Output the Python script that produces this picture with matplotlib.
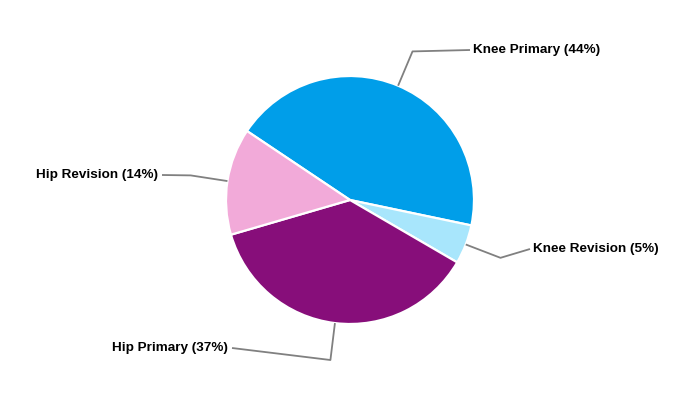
import numpy as np
import matplotlib.pyplot as plt

plt.rcParams["font.family"] = ["Liberation Sans", "DejaVu Sans"]

categories = ["Knee Primary", "Knee Revision", "Hip Primary", "Hip Revision"]
shares = [43.9, 5.1, 37.1, 13.9]
colors = ["#009ee9", "#a8e6fc", "#870e7a", "#f2aad9"]

# where each leader line ends (pixels, y from top) and which side the text sits on
label_ends = [(470, 50), (530, 249), (232, 348), (162, 175)]
label_side = ["left", "left", "right", "right"]

cx, cy, radius = 350, 200, 124
start = 146.2

fig = plt.figure(figsize=(7, 4), dpi=100)
ax = fig.add_axes([0, 0, 1, 1])

wedges, _ = ax.pie(
    shares,
    colors=colors,
    startangle=start,
    counterclock=False,
    center=(cx, 400 - cy),
    radius=radius,
    wedgeprops=dict(edgecolor="white", linewidth=1.6),
)

for i, w in enumerate(wedges):
    mid = np.deg2rad((w.theta1 + w.theta2) / 2)
    x0 = cx + radius * np.cos(mid)
    y0 = (400 - cy) + radius * np.sin(mid)
    x1 = cx + 1.3 * radius * np.cos(mid)
    y1 = (400 - cy) + 1.3 * radius * np.sin(mid)
    ex, ey = label_ends[i]
    ey = 400 - ey
    ax.plot([x0, x1, ex], [y0, y1, ey], color="#808080", lw=1.3, solid_capstyle="butt")
    label = f"{categories[i]} ({round(shares[i]):.0f}%)"
    if label_side[i] == "left":
        ax.text(ex + 3, ey, label, ha="left", va="center", fontsize=9.7, fontweight="bold")
    else:
        ax.text(ex - 4, ey, label, ha="right", va="center", fontsize=9.7, fontweight="bold")

ax.set_xlim(0, 700)
ax.set_ylim(0, 400)
ax.set_aspect("equal")
ax.axis("off")

fig.savefig("out.png", dpi=100)
